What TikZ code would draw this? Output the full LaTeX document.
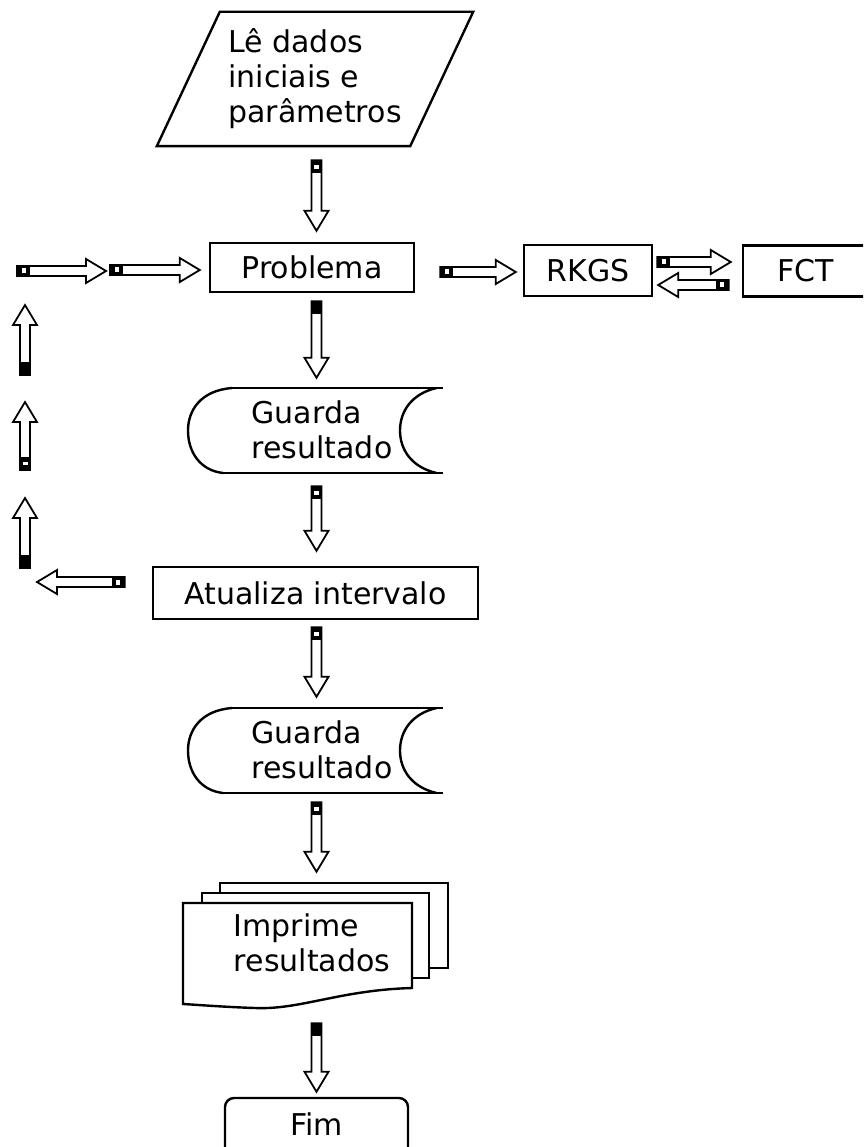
\documentclass[tikz,border=0pt]{standalone}
\usepackage{fontspec}
\setmainfont{DejaVu Sans}
\usetikzlibrary{calc}
\newcommand\bsw{5}
\newcommand\bhw{12}
\newcommand\bhl{20}
\newcommand\barrowgen[3]{%
  \path let \p1=(#2), \p2=(#3), \n1={atan2(\y2-\y1,\x2-\x1)}, \n2={veclen(\x2-\x1,\y2-\y1)} in
    \pgfextra{\xdef\bang{\n1}\xdef\blen{\n2}\xdef\bx{\x1}\xdef\by{\y1}};
  \begin{scope}[shift={(\bx,\by)}, rotate=\bang]
    \draw[arrline] (0,-\bsw) -- ({\blen-\bhl},-\bsw) -- ({\blen-\bhl},-\bhw) -- (\blen,0)
      -- ({\blen-\bhl},\bhw) -- ({\blen-\bhl},\bsw) -- (0,\bsw) -- cycle;
    \fill[black] (0,-\bsw-0.9) rectangle (13,\bsw+0.9);
    \ifnum#1=1 \fill[white] (5,-2.5) rectangle (8.5,2.5);\fi
  \end{scope}}
\newcommand\barrow[2]{\barrowgen{1}{#1}{#2}}
\newcommand\barrowS[2]{\barrowgen{0}{#1}{#2}}
\tikzset{
  boxline/.style={line width=2.4pt, draw=black},
  arrline/.style={line width=1.8pt, draw=black, fill=white, line join=miter},
  txt/.style={font=\fontsize{30}{35}\selectfont, inner sep=0pt},
  procbox/.style={txt, rectangle, boxline},
}
\begin{document}
\begin{tikzpicture}[x=1pt,y=1pt]
\useasboundingbox (0,0) rectangle (863,-1147);
\fill[white] (0,0) rectangle (863,-1147);
\clip (0,0) rectangle (863,-1147);
\coordinate (col) at (316.5,0);

% input parallelogram
\node[txt, align=left, minimum width=316, minimum height=134] (par) at (315,-79) {Lê dados\\iniciais e\\parâmetros};
\draw[boxline] ([xshift=63]par.north west) -- (par.north east) -- ([xshift=-63]par.south east) -- (par.south west) -- cycle;

% process boxes
\node[procbox, minimum width=204, minimum height=49] (prob) at (312,-267.5) {Problema};
\node[procbox, minimum width=128, minimum height=51] (rkgs) at (588,-270.5) {RKGS};
\node[procbox, minimum width=126, minimum height=51] (fct) at (806,-271) {FCT};
\node[procbox, minimum width=325, minimum height=52] (atu) at (315.5,-593) {Atualiza intervalo};

% stored data shapes
\node[txt, minimum width=255, minimum height=85] (g1) at (315.5,-430.5) {};
\node[txt, minimum width=255, minimum height=85] (g2) at (315.5,-750.5) {};
\foreach \g in {g1,g2}{
  \begin{scope}[shift={(\g.center)}]
    \draw[boxline] (-83.5,42.5) -- (127.5,42.5);
    \draw[boxline] (127.5,-42.5) -- (-92.5,-42.5);
    \draw[boxline] (-83.5,42.5) .. controls (-115,40) and (-127.5,20) .. (-127.5,0)
      .. controls (-127.5,-22) and (-115,-40) .. (-92.5,-42.5);
    \draw[boxline] (121,42.5) .. controls (97,37) and (84.5,20) .. (84.5,0)
      .. controls (84.5,-20) and (97,-37) .. (121,-42.5);
  \end{scope}}
\node[txt, align=left] (g1t) at ($(g1.center)+(6.5,0.5)$) {Guarda\\resultado};
\node[txt, align=left] (g2t) at ($(g2.center)+(6.5,0.5)$) {Guarda\\resultado};

% multi-document
\node[txt, minimum width=229, minimum height=101] (imp) at (297.5,-953.5) {};
\begin{scope}[shift={(imp.center)}]
  \draw[boxline, fill=white] (-77.5,70.5) rectangle (150.5,-14.5);
  \draw[boxline, fill=white] (-95.5,60.5) rectangle (131.5,-24.5);
  \draw[boxline, fill=white] (-114.5,50.5) -- (114.5,50.5) -- (114.5,-34.5)
    .. controls (42.5,-36.5) and (2.5,-56.5) .. (-42.5,-54.5)
    .. controls (-72.5,-53.5) and (-97.5,-51.5) .. (-114.5,-50.5) -- cycle;
\end{scope}
\node[txt, align=left] (impt) at ($(imp.center)+(14.5,10.5)$) {Imprime\\resultados};

% terminal
\node[procbox, rounded corners=9, minimum width=183, minimum height=62] (fim) at (316.5,-1129) {};
\node[txt] (fimt) at (316.5,-1124) {Fim};

% main column arrows
\barrow{$(par.south -| col)+(0,-14)$}{$(prob.north -| col)+(0,11)$}
\barrowS{$(prob.south -| col)+(0,-8)$}{$(g1.north -| col)+(0,10)$}
\barrow{$(g1.south -| col)+(0,-13)$}{$(atu.north -| col)+(0,15)$}
\barrow{$(atu.south -| col)+(0,-7)$}{$(g2.north -| col)+(0,11)$}
\barrow{$(g2.south -| col)+(0,-9)$}{$(imp.north -| col)+(0,31)$}
\barrowS{$(imp.south -| col)+(0,-19)$}{$(fim.north -| col)+(0,5)$}

% side arrows
\barrow{$(prob.east)+(25,-4.5)$}{$(rkgs.west)+(-7,-1.5)$}
\barrow{$(rkgs.east)+(4,8.5)$}{$(fct.west)+(-11,9)$}
\barrow{$(fct.west)+(-13,-14)$}{$(rkgs.east)+(5,-14.5)$}

% loop back
\coordinate (l0) at (37,-582);
\coordinate (u1a) at (25,-568); \coordinate (u1b) at (25,-498);
\coordinate (u2a) at (25,-470); \coordinate (u2b) at (25,-402);
\coordinate (u3a) at (25,-375); \coordinate (u3b) at (25,-305);
\coordinate (h1a) at (17,-271); \coordinate (h1b) at (106,-271);
\coordinate (h2a) at (110,-270);
\barrow{$(atu.west)+(-27,11)$}{l0}
\barrowS{u1a}{u1b}
\barrow{u2a}{u2b}
\barrowS{u3a}{u3b}
\barrow{h1a}{h1b}
\barrow{h2a}{$(prob.west)+(-9,-2.5)$}
\end{tikzpicture}
\end{document}
